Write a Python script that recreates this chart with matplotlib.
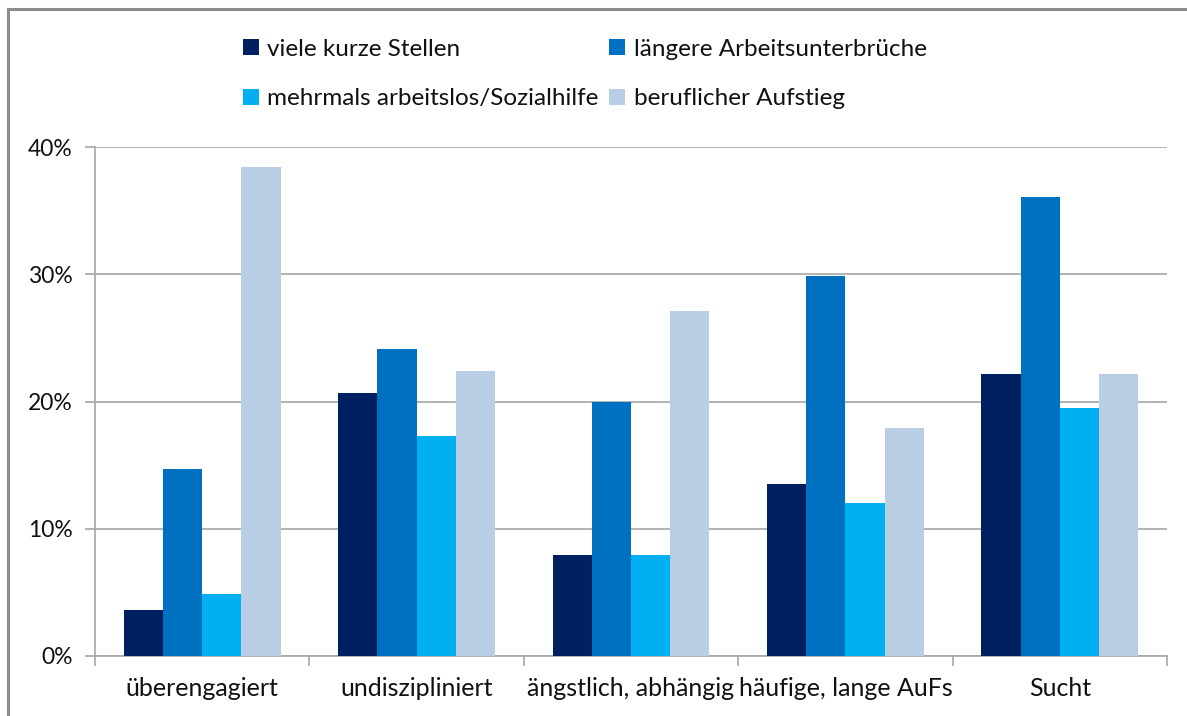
import matplotlib.pyplot as plt
import numpy as np
from matplotlib.lines import Line2D
from matplotlib.patches import Patch
from matplotlib.ticker import FixedLocator, FuncFormatter

plt.rcParams['font.family'] = ['Lato', 'DejaVu Sans']

# Daten
kategorien = ['überengagiert', 'undiszipliniert', 'ängstlich, abhängig',
              'häufige, lange AuFs', 'Sucht']
serien = ['viele kurze Stellen', 'längere Arbeitsunterbrüche',
          'mehrmals arbeitslos/Sozialhilfe', 'beruflicher Aufstieg']
viele_kurze = [3.6, 20.7, 7.9, 13.5, 22.2]
laengere_unterbrueche = [14.7, 24.1, 20.0, 29.9, 36.1]
mehrmals_arbeitslos = [4.9, 17.3, 7.9, 12.0, 19.5]
beruflicher_aufstieg = [38.4, 22.4, 27.1, 17.9, 22.2]
werte = [viele_kurze, laengere_unterbrueche, mehrmals_arbeitslos, beruflicher_aufstieg]
farben = ['#002060', '#0070C0', '#00B0F0', '#B9CDE5']

grau = '#A6A6A6'
textfarbe = '#111111'

fig = plt.figure(figsize=(11.87, 7.16), dpi=100)
ax = fig.add_axes([95 / 1187, 1 - 656 / 716, 1072 / 1187, 509 / 716])

x = np.arange(len(kategorien))
breite = 0.183
for i, (w, f) in enumerate(zip(werte, farben)):
    ax.bar(x + (i - 1.5) * breite, w, width=breite, color=f, zorder=3)

ax.set_xlim(-0.5, len(kategorien) - 0.5)
ax.set_ylim(0, 40)
ax.set_yticks([0, 10, 20, 30, 40])
ax.yaxis.set_major_formatter(FuncFormatter(lambda v, p: f'{v:.0f}%'))
ax.yaxis.grid(True, color=grau, linewidth=1.2, zorder=0)

ax.set_xticks(x)
ax.set_xticklabels(kategorien)
ax.xaxis.set_minor_locator(FixedLocator(np.arange(-0.5, len(kategorien), 1.0)))
ax.tick_params(axis='x', which='major', length=0, pad=15, labelsize=18, labelcolor=textfarbe)
ax.tick_params(axis='x', which='minor', length=7, width=1.2, color=grau)
ax.tick_params(axis='y', length=7, width=1.2, color=grau, pad=9, labelsize=16.5, labelcolor=textfarbe)

for s in ['top', 'right']:
    ax.spines[s].set_visible(False)
for s in ['left', 'bottom']:
    ax.spines[s].set_color(grau)
    ax.spines[s].set_linewidth(1.2)

# Legende (spaltenweise gefüllt)
reihenfolge = [0, 2, 1, 3]
handles = [Patch(facecolor=farben[i], edgecolor='none') for i in reihenfolge]
labels = [serien[i] for i in reihenfolge]
fig.legend(handles, labels, ncol=2, frameon=False, loc='upper left',
           bbox_to_anchor=(233 / 1187, 1 - 29 / 716), fontsize=17.5,
           handlelength=0.65, handleheight=0.65, handletextpad=0.35,
           columnspacing=0.45, labelspacing=1.17, borderaxespad=0,
           labelcolor=textfarbe)

# Rahmen des Diagramms
rahmen = '#8C8C8C'
fig.add_artist(Line2D([8 / 1187, 8 / 1187], [0, 1 - 9 / 716], color=rahmen, linewidth=2.2,
                      transform=fig.transFigure))
fig.add_artist(Line2D([8 / 1187, 1], [1 - 9 / 716, 1 - 9 / 716], color=rahmen, linewidth=2.2,
                      transform=fig.transFigure))

fig.savefig('out.png', dpi=100)
